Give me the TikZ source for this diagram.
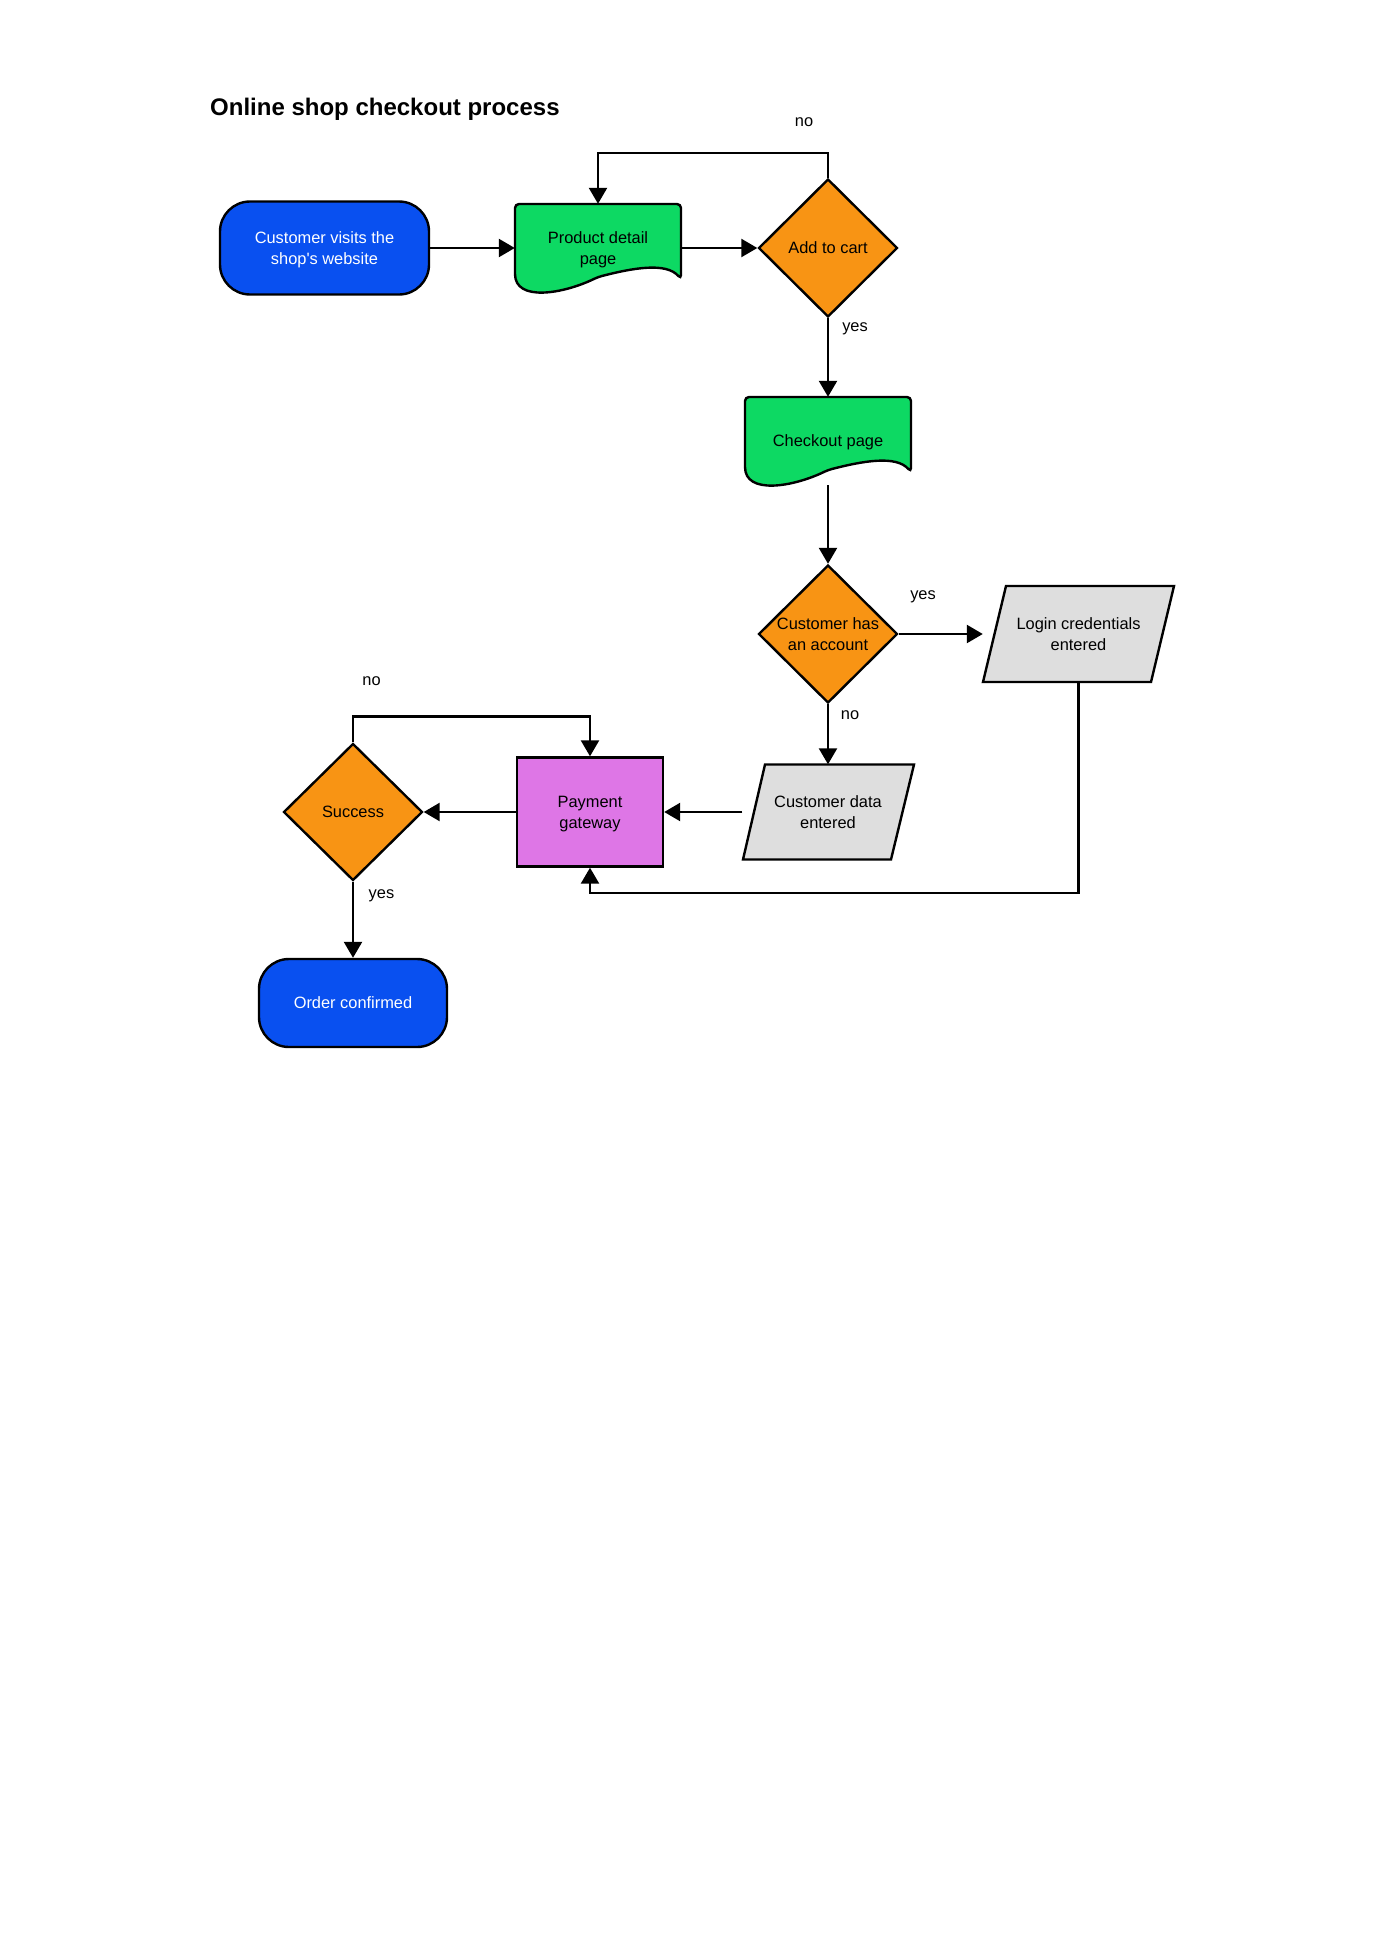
\documentclass[tikz,border=0pt]{standalone}
\usepackage{fontspec}
\setmainfont{Liberation Sans}[Ligatures=TeXOff]
\usetikzlibrary{shapes.geometric,arrows.meta}
\definecolor{termblue}{RGB}{9,80,240}
\definecolor{docgreen}{RGB}{13,217,99}
\definecolor{decorange}{RGB}{248,148,20}
\definecolor{iogray}{RGB}{222,222,222}
\definecolor{procviolet}{RGB}{222,118,230}
\begin{document}
\begin{tikzpicture}[x=1pt,y=-1pt,
  outline/.style={line width=2.4pt, draw=black, line join=miter},
  txt/.style={font=\fontsize{16.4}{20.7}\selectfont, align=center, inner sep=0pt, text depth=0pt},
  terminal/.style={outline, txt, fill=termblue, text=white, rounded corners=30pt,
                   minimum width=209pt, minimum height=93pt},
  doctext/.style={txt, minimum width=166pt, minimum height=88pt},
  docfill/.style={outline, fill=docgreen, rounded corners=4pt},
  decision/.style={outline, fill=decorange, diamond, inner sep=0pt,
                   minimum width=139pt, minimum height=138pt},
  iotext/.style={txt, minimum height=95pt},
  iofill/.style={outline, fill=iogray},
  process/.style={outline, txt, fill=procviolet, minimum width=146pt, minimum height=109pt},
  flow/.style={line width=2.4pt, -{Triangle[length=16pt,width=18pt]}},
  edgelabel/.style={font=\fontsize{16.4}{20}\selectfont, inner sep=0pt},
]
\useasboundingbox (0,0) rectangle (1378,1948);
\fill[white] (0,0) rectangle (1378,1948);

% title
\node[font=\fontsize{24}{29}\selectfont\bfseries, anchor=base west, inner sep=0pt] (title)
  at (210,116) {Online shop checkout process};

% document outlines (wavy bottom)
\foreach \cx/\cy in {598/248, 828/441}
  \filldraw[docfill, shift={(\cx,\cy)}]
    (-83,-44) -- (83,-44) -- (83,31) .. controls (68,14) and (35,20) .. (0,29)
    .. controls (-35,46) and (-83,54) .. (-83,22) -- cycle;

% data (parallelogram) outlines
\filldraw[iofill, shift={(828,812)}]
  (-63,-47.5) -- (86,-47.5) -- (63,47.5) -- (-85,47.5) -- cycle;
\filldraw[iofill, shift={(1078.5,634)}]
  (-72.5,-48) -- (95.5,-48) -- (72.5,48) -- (-95.5,48) -- cycle;

% nodes
\node[terminal] (start) at (324.5,248) {Customer visits the\\shop's website};
\node[doctext] (prod) at (598,248) {Product detail\\page};
\node[decision, label={[txt]center:Add to cart}] (cart) at (828,248) {};
\node[doctext] (chk) at (828,441) {Checkout page};
\node[decision, label={[txt]center:{Customer has\\an account}}] (acct) at (828,634) {};
\node[iotext, minimum width=191pt] (login) at (1078.5,634) {Login credentials\\entered};
\node[iotext, minimum width=171pt] (data) at (828,812) {Customer data\\entered};
\node[process] (pay) at (590,812) {Payment\\gateway};
\node[decision, minimum height=137pt, label={[txt]center:Success}] (succ) at (353,812) {};
\node[terminal, minimum width=188pt, minimum height=88pt] (order) at (353,1003) {Order confirmed};

% connectors
\draw[flow] (start.east) -- (prod.west);
\draw[flow] (prod.east) -- (cart.west);
\draw[flow] (cart.north) |- ([yshift=51pt]prod.north) -- (prod.north);
\draw[flow] (cart.south) -- (chk.north);
\draw[flow] (chk.south) -- (acct.north);
\draw[flow] (acct.east) -- (login.west);
\draw[flow] (acct.south) -- (data.north);
\draw[flow] (data.west) -- (pay.east);
\draw[flow] (login.south) |- ([yshift=-25pt]pay.south) -- (pay.south);
\draw[flow] (pay.west) -- (succ.east);
\draw[flow] (succ.north) |- ([yshift=40pt]pay.north) -- (pay.north);
\draw[flow] (succ.south) -- (order.north);

% branch labels
\node[edgelabel] (lcartno) at (804,122) {no};
\node[edgelabel] (lcartyes) at (855,329) {yes};
\node[edgelabel] (lacctyes) at (923,597) {yes};
\node[edgelabel] (lacctno) at (850,715) {no};
\node[edgelabel] (lsuccno) at (371.5,681) {no};
\node[edgelabel] (lsuccyes) at (381.5,896) {yes};
\end{tikzpicture}
\end{document}
